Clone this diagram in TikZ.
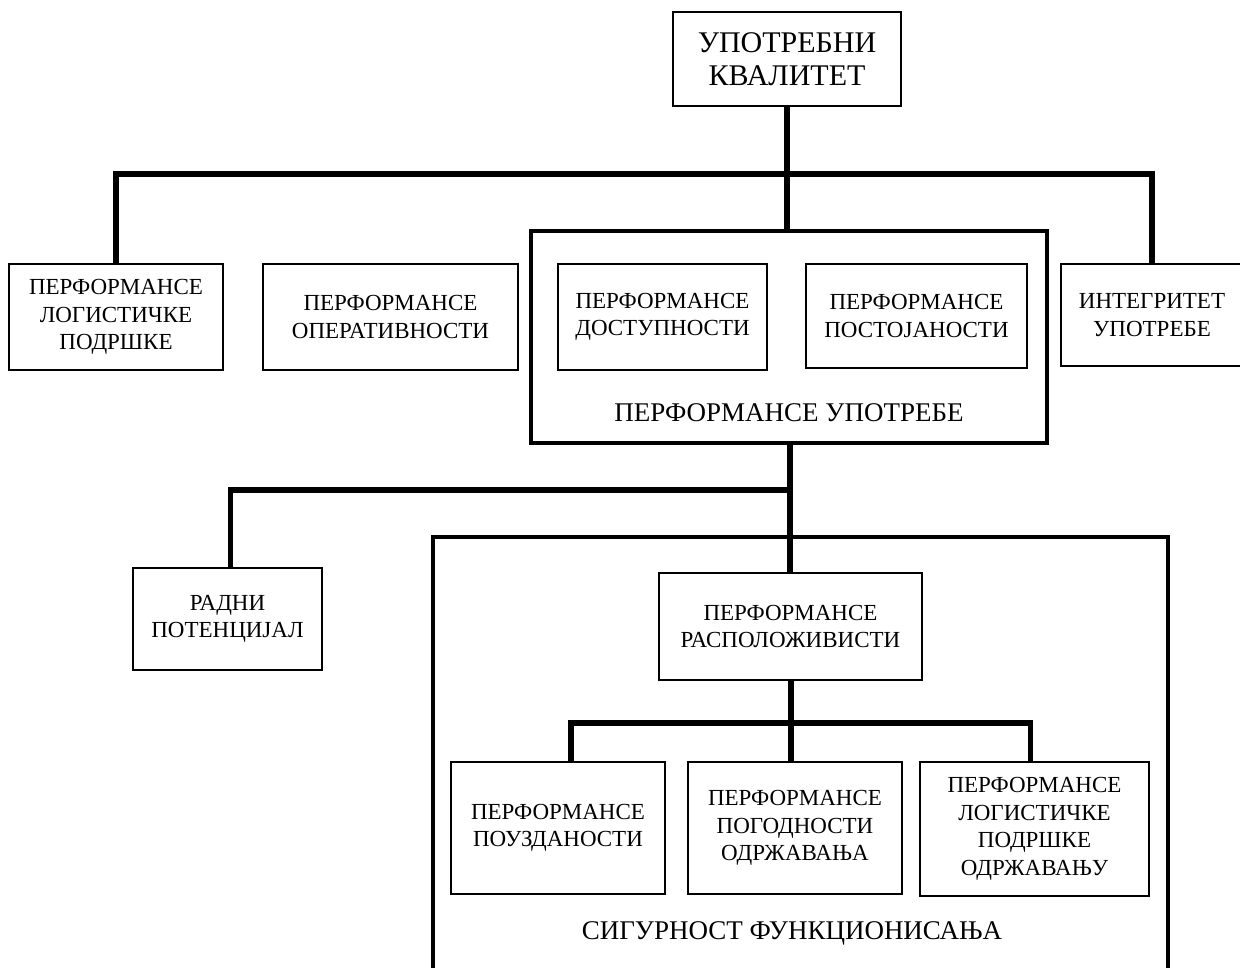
\documentclass[tikz,border=0pt]{standalone}
\usepackage{fontspec}
\setmainfont{Liberation Serif}
\begin{document}
\begin{tikzpicture}[x=1pt,y=-1pt,
  box/.style={draw, line width=1.2pt, align=center, inner sep=0pt, font=\fontsize{23}{27.5}\selectfont},
  frame/.style={draw, line width=4pt, inner sep=0pt},
  conn/.style={line width=5.5pt, line join=miter},
  biglabel/.style={font=\fontsize{27}{32}\selectfont, inner sep=0pt}]
\useasboundingbox (0,0) rectangle (1240,967);
\clip (0,0) rectangle (1240,967);

% top
\node[box, minimum width=228, minimum height=94, font=\fontsize{30}{33}\selectfont] (top) at (787,59) {УПОТРЕБНИ\\КВАЛИТЕТ};

% second row
\node[box, minimum width=214, minimum height=106] (lp) at (116,317) {ПЕРФОРМАНСЕ\\ЛОГИСТИЧКЕ\\ПОДРШКЕ};
\node[box, minimum width=255, minimum height=106] (op) at (390.5,317) {ПЕРФОРМАНСЕ\\ОПЕРАТИВНОСТИ};
\node[frame, minimum width=516, minimum height=212] (pu) at (789,336.5) {};
\node[biglabel] (pul) at (789,413) {ПЕРФОРМАНСЕ УПОТРЕБЕ};
\node[box, minimum width=209, minimum height=106] (do) at (662.5,317) {ПЕРФОРМАНСЕ\\ДОСТУПНОСТИ};
\node[box, minimum width=221, minimum height=104] (po) at (916.5,316) {ПЕРФОРМАНСЕ\\ПОСТОЈАНОСТИ};
\node[box, minimum width=182, minimum height=102] (ii) at (1152,315) {ИНТЕГРИТЕТ\\УПОТРЕБЕ};

% lower part
\node[box, minimum width=189, minimum height=102] (rp) at (227.5,619) {РАДНИ\\ПОТЕНЦИЈАЛ};
\node[frame, minimum width=735, minimum height=500] (sf) at (800.5,787) {};
\node[biglabel] (sfl) at (792,933) {СИГУРНОСТ ФУНКЦИОНИСАЊА};
\node[box, minimum width=263, minimum height=107] (pr) at (790.5,626.5) {ПЕРФОРМАНСЕ\\РАСПОЛОЖИВИСТИ};
\node[box, minimum width=214, minimum height=132] (pz) at (558,828) {ПЕРФОРМАНСЕ\\ПОУЗДАНОСТИ};
\node[box, minimum width=214, minimum height=132] (pg) at (795,828) {ПЕРФОРМАНСЕ\\ПОГОДНОСТИ\\ОДРЖАВАЊА};
\node[box, minimum width=229, minimum height=134] (pl) at (1034.5,829) {ПЕРФОРМАНСЕ\\ЛОГИСТИЧКЕ\\ПОДРШКЕ\\ОДРЖАВАЊУ};

% connectors
\coordinate (b1) at (787,174);
\coordinate (b2) at (790,490);
\coordinate (b3) at (791,723);
\draw[conn] (top.south) -- (top.south |- pu.north);
\draw[conn] (lp.north) |- (b1) -| (ii.north);
\draw[conn] (pu.south -| b2) -- (pr.north -| b2);
\draw[conn] (b2) -| ([xshift=3]rp.north);
\draw[conn] (pr.south -| b3) -- (pg.north -| b3);
\draw[conn] ([xshift=13]pz.north) |- (b3) -| ([xshift=-4]pl.north);
\end{tikzpicture}
\end{document}
